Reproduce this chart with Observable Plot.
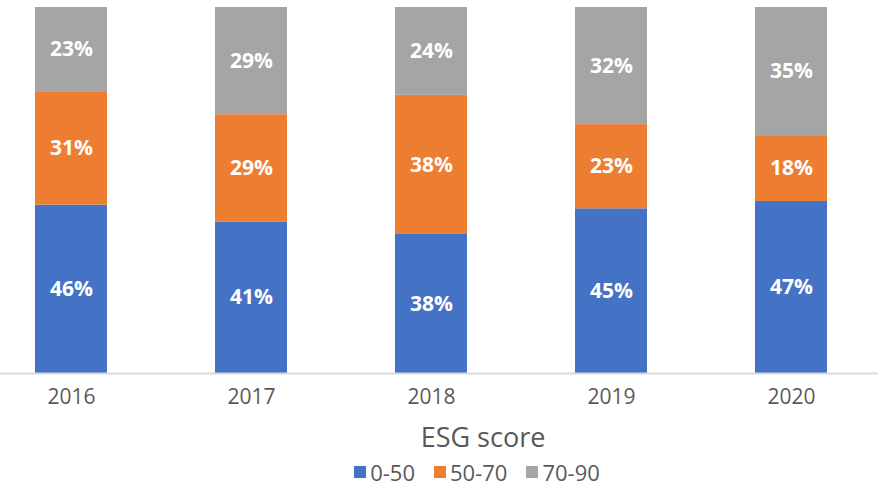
<!DOCTYPE html>
<html>
<head>
<meta charset="utf-8">
<script src="https://cdn.jsdelivr.net/npm/d3@7"></script>
<script src="https://cdn.jsdelivr.net/npm/@observablehq/plot@0.6"></script>
<style>
  html, body { margin: 0; padding: 0; background: #fff; }
  body { width: 878px; height: 486px; overflow: hidden; position: relative; font-family: "Open Sans", "Noto Sans", sans-serif; }
  #title { position: absolute; left: 283px; width: 400px; top: 419px; text-align: center; font-size: 27px; color: #595959; line-height: 36px; }
  #legend { position: absolute; left: 277px; width: 400px; top: 459px; display: flex; justify-content: center; gap: 19px; font-size: 22px; color: #595959; line-height: 26px; }
  .item { display: flex; align-items: center; gap: 4px; }
  .sw { width: 12px; height: 12px; display: inline-block; }
</style>
</head>
<body>
<div id="chart"></div>
<div id="title">ESG score</div>
<div id="legend"></div>
<script>
const years = ["2016", "2017", "2018", "2019", "2020"];
const series = ["0-50", "50-70", "70-90"];
const colors = ["#4472C4", "#ED7D31", "#A5A5A5"];
const score0to50 = [46, 41, 38, 45, 47];
const score50to70 = [31, 29, 38, 23, 18];
const score70to90 = [23, 29, 24, 32, 35];

const values = [score0to50, score50to70, score70to90];
const data = [];
series.forEach((s, i) => years.forEach((y, j) => data.push({year: y, series: s, value: values[i][j]})));

const chart = Plot.plot({
  width: 878,
  height: 420,
  marginTop: 7,
  marginBottom: 47,
  marginLeft: 0,
  marginRight: 0,
  style: {fontFamily: "'Open Sans', 'Noto Sans', sans-serif", background: "#fff"},
  x: {domain: years, range: [-19, 881], paddingInner: 0.6, paddingOuter: 0.3, label: null},
  y: {axis: null},
  color: {domain: series, range: colors},
  marks: [
    Plot.barY(data, Plot.stackY({x: "year", y: "value", fill: "series", z: "series", offset: "normalize"})),
    Plot.text(data, Plot.stackY({x: "year", y: "value", z: "series", offset: "normalize",
      text: d => d.value + "%", fill: "white", fontSize: 21, fontWeight: "bold"})),
    Plot.ruleY([0], {stroke: "#D9D9D9", strokeWidth: 2}),
    Plot.axisX({tickSize: 0, tickPadding: 16, fontSize: 21, color: "#595959", label: null})
  ]
});
document.getElementById("chart").appendChild(chart);

const legend = document.getElementById("legend");
series.forEach((s, i) => {
  const it = document.createElement("div");
  it.className = "item";
  const sw = document.createElement("span");
  sw.className = "sw";
  sw.style.background = colors[i];
  it.appendChild(sw);
  const t = document.createElement("span");
  t.textContent = s;
  it.appendChild(t);
  legend.appendChild(it);
});
</script>
</body>
</html>
